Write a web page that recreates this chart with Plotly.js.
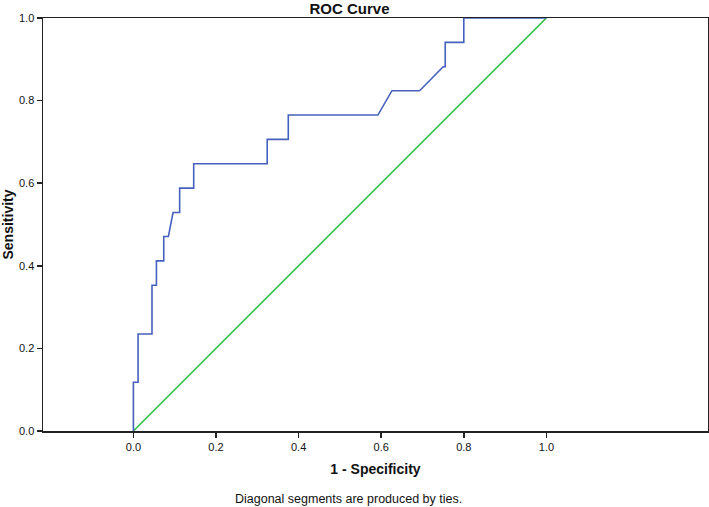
<!DOCTYPE html>
<html>
<head>
<meta charset="utf-8">
<script src="https://cdn.plot.ly/plotly-3.0.1.min.js"></script>
<style>html,body{margin:0;padding:0;background:#fff;}#chart{width:709px;height:507px;}</style>
</head>
<body>
<div id="chart"></div>
<script>
// ROC curve points (1 - Specificity, Sensitivity)
const fpr = [0, 0, 0.0113, 0.0113, 0.045, 0.045, 0.0557, 0.0557, 0.0735, 0.0735,
             0.0847, 0.096, 0.112, 0.112, 0.146, 0.146, 0.324, 0.324, 0.375, 0.375,
             0.592, 0.626, 0.693, 0.750, 0.755, 0.755, 0.800, 0.800, 1.0];
const tpr = [0, 0.118, 0.118, 0.235, 0.235, 0.353, 0.353, 0.412, 0.412, 0.471,
             0.471, 0.529, 0.529, 0.588, 0.588, 0.647, 0.647, 0.706, 0.706, 0.765,
             0.765, 0.824, 0.824, 0.882, 0.882, 0.941, 0.941, 1.0, 1.0];
// Reference line
const refX = [0, 1];
const refY = [0, 1];
const xTicks = [0, 0.2, 0.4, 0.6, 0.8, 1.0];
const yTicks = [0, 0.2, 0.4, 0.6, 0.8, 1.0];

const font = 'Liberation Sans, Arial, sans-serif';

const traces = [
  {x: refX, y: refY, type: 'scatter', mode: 'lines',
   line: {color: '#36c049', width: 1.6}, hoverinfo: 'skip', cliponaxis: false},
  {x: fpr, y: tpr, type: 'scatter', mode: 'lines',
   line: {color: '#4661bd', width: 1.6}, hoverinfo: 'skip', cliponaxis: false}
];

const layout = {
  width: 709, height: 507,
  margin: {l: 43, r: 1, t: 18, b: 76},
  paper_bgcolor: '#fff', plot_bgcolor: '#fff',
  showlegend: false,
  font: {family: font, color: '#111', size: 11},
  title: {text: '<b>ROC Curve</b>', font: {family: font, size: 15, color: '#111'},
          x: 349.5/709, xref: 'container', xanchor: 'center',
          y: 1 - 8.5/507, yref: 'container', yanchor: 'middle'},
  xaxis: {
    range: [-0.2189, 1.3913], tickvals: xTicks, tickformat: '.1f',
    showgrid: false, zeroline: false,
    showline: true, mirror: true, linecolor: '#222', linewidth: 1.5,
    ticks: 'outside', ticklen: 5, tickwidth: 1.5, tickcolor: '#222',
    tickfont: {family: font, size: 11, color: '#111'},
    title: {text: '<b>1 - Specificity</b>', font: {family: font, size: 14, color: '#111'}, standoff: 12}
  },
  yaxis: {
    range: [0, 1], tickvals: yTicks, tickformat: '.1f',
    showgrid: false, zeroline: false,
    showline: true, mirror: true, linecolor: '#222', linewidth: 1.5,
    ticks: 'outside', ticklen: 5, tickwidth: 1.5, tickcolor: '#222',
    tickfont: {family: font, size: 11, color: '#111'},
    title: {text: '<b>Sensitivity</b>', font: {family: font, size: 14, color: '#111'}, standoff: 4}
  },
  annotations: [{
    text: 'Diagonal segments are produced by ties.',
    xref: 'paper', yref: 'paper', x: (348 - 43) / 665, y: -(499 - 431) / 413,
    xanchor: 'center', yanchor: 'middle', showarrow: false,
    font: {family: font, size: 12.5, color: '#111'}
  }]
};

Plotly.newPlot('chart', traces, layout, {displayModeBar: false, staticPlot: true});
</script>
</body>
</html>
